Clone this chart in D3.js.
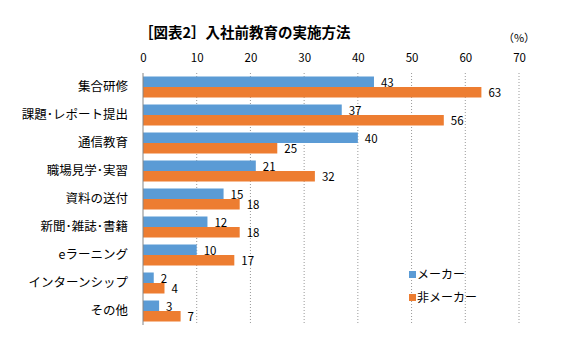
<!DOCTYPE html>
<html>
<head>
<meta charset="utf-8">
<script src="https://cdn.jsdelivr.net/npm/d3@7"></script>
<style>
  body { margin: 0; background: #fff; }
  svg text { font-family: "Noto Sans CJK JP", sans-serif; }
</style>
</head>
<body>
<svg id="chart" width="577" height="361"></svg>
<script>
// data
const categories = ['集合研修', '課題･レポート提出', '通信教育', '職場見学･実習', '資料の送付', '新聞･雑誌･書籍', 'eラーニング', 'インターンシップ', 'その他'];
const makerValues = [43, 37, 40, 21, 15, 12, 10, 2, 3];
const nonMakerValues = [63, 56, 25, 32, 18, 18, 17, 4, 7];
const seriesNames = ['メーカー', '非メーカー'];
const tickValues = [0, 10, 20, 30, 40, 50, 60, 70];

const colors = ['#5B9BD5', '#ED7D31'];

const svg = d3.select('#chart');
const plotLeft = 143, plotRight = 519, plotTop = 73, plotBottom = 325;

const x = d3.scaleLinear().domain([0, 70]).range([plotLeft, plotRight]);
const y = d3.scaleBand().domain(categories).range([plotTop, plotBottom]).paddingInner(0.25).paddingOuter(0.125);
const sub = d3.scaleBand().domain([0, 1]).range([0, y.bandwidth()]);

// title
svg.append('text')
    .attr('x', 139).attr('y', 38)
    .attr('font-size', 14.5).attr('font-weight', 'bold')
    .attr('fill', '#000')
    .text('［図表2］入社前教育の実施方法');

svg.append('text')
    .attr('x', 519).attr('y', 42)
    .attr('text-anchor', 'middle')
    .attr('font-size', 11)
    .text('（%）');

// gridlines
svg.append('g').selectAll('line')
    .data(tickValues.filter(d => d > 0))
    .enter().append('line')
    .attr('x1', d => x(d)).attr('x2', d => x(d))
    .attr('y1', plotTop).attr('y2', plotBottom)
    .attr('stroke', '#999')
    .attr('stroke-dasharray', '1,2');

// top axis labels
const axis = d3.axisTop(x).tickValues(tickValues).tickSize(0).tickPadding(0);
const gAxis = svg.append('g').attr('transform', `translate(0,${62})`).call(axis);
gAxis.select('.domain').remove();
gAxis.selectAll('text').attr('font-size', 11.5).attr('fill', '#000')
    .style('font-family', '"Noto Sans CJK JP", sans-serif');

// category labels
svg.append('g').selectAll('text')
    .data(categories)
    .enter().append('text')
    .attr('x', 128)
    .attr('y', d => y(d) + y.bandwidth() / 2)
    .attr('dy', '0.35em')
    .attr('text-anchor', 'end')
    .attr('font-size', 12.5)
    .attr('fill', '#000')
    .text(d => d);

// bars
[makerValues, nonMakerValues].forEach((vals, si) => {
    const g = svg.append('g');
    g.selectAll('rect')
        .data(vals)
        .enter().append('rect')
        .attr('x', x(0))
        .attr('y', (d, i) => y(categories[i]) + sub(si))
        .attr('width', d => x(d) - x(0))
        .attr('height', sub.bandwidth())
        .attr('fill', colors[si]);
    g.selectAll('text')
        .data(vals)
        .enter().append('text')
        .attr('x', d => x(d) + 7)
        .attr('y', (d, i) => y(categories[i]) + sub(si) + sub.bandwidth() / 2 + 1)
        .attr('dy', '0.35em')
        .attr('font-size', 11.5)
        .attr('fill', '#000')
        .text(d => d);
});

// axis line at zero
svg.append('line')
    .attr('x1', x(0)).attr('x2', x(0))
    .attr('y1', plotTop).attr('y2', plotBottom)
    .attr('stroke', '#868686');

// legend
const legend = svg.append('g').attr('transform', 'translate(409,271)');
seriesNames.forEach((name, i) => {
    legend.append('rect')
        .attr('x', 0).attr('y', i * 23)
        .attr('width', 7).attr('height', 7)
        .attr('fill', colors[i]);
    legend.append('text')
        .attr('x', 8).attr('y', i * 23 + 4)
        .attr('dy', '0.35em')
        .attr('font-size', 12)
        .attr('fill', '#000')
        .text(name);
});
</script>
</body>
</html>
